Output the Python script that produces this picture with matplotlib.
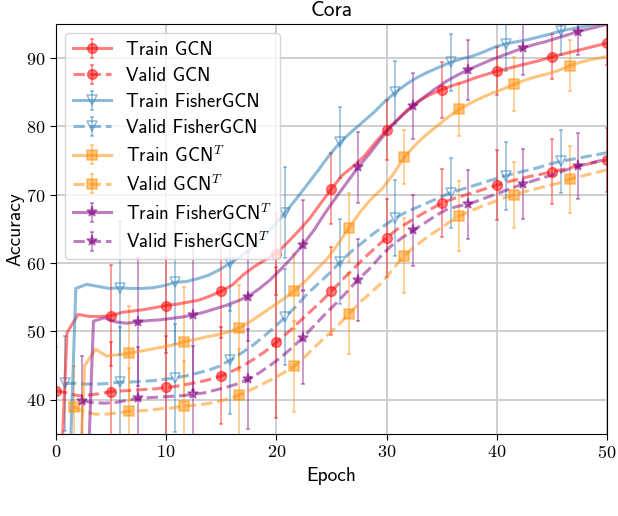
import numpy as np
import matplotlib
matplotlib.use("Agg")
import matplotlib.pyplot as plt
from matplotlib.ticker import FuncFormatter, MultipleLocator

plt.rcParams["font.family"] = ["cmss10", "DejaVu Sans"]
plt.rcParams["mathtext.fontset"] = "cm"
plt.rcParams["axes.unicode_minus"] = False

# ------------------------------------------------------------
# Data (accuracy per epoch, mean over runs; std at every 5th epoch)
# ------------------------------------------------------------
epochs = np.arange(51)

train_gcn = [12, 49.8, 52.5, 52.2, 52.2, 52.3, 52.8, 53.0, 53.2, 53.5, 53.8,
             54.0, 54.3, 54.6, 55.2, 55.9, 56.8, 58.3, 59.5, 60.5, 61.4,
             63.0, 64.7, 66.5, 68.7, 70.9, 72.9, 74.2, 75.7, 77.7, 79.5,
             81.0, 82.6, 83.8, 84.7, 85.4, 86.0, 86.5, 87.1, 87.6, 88.1,
             88.5, 88.9, 89.3, 89.7, 90.2, 90.6, 91.0, 91.4, 91.8, 92.2]
valid_gcn = [41.3, 41.0, 40.6, 40.7, 40.9, 41.2, 41.3, 41.4, 41.5, 41.6, 41.8,
             42.0, 42.3, 42.6, 43.0, 43.5, 44.2, 45.0, 46.0, 47.1, 48.4,
             49.8, 51.3, 52.8, 54.3, 55.9, 57.6, 59.2, 60.8, 62.3, 63.7,
             65.0, 66.0, 67.0, 67.9, 68.8, 69.4, 69.9, 70.4, 70.9, 71.4,
             71.9, 72.3, 72.7, 73.0, 73.4, 73.7, 74.1, 74.4, 74.8, 75.1]
train_fgcn = [8, 56.3, 56.9, 56.6, 56.3, 56.4, 56.3, 56.3, 56.4, 56.7, 57.2,
              57.3, 57.7, 58.2, 59.0, 60.0, 61.0, 62.3, 63.8, 65.5, 67.4,
              69.4, 71.5, 73.6, 75.8, 77.7, 79.2, 80.6, 82.0, 83.6, 85.0,
              86.2, 87.2, 88.0, 88.7, 89.4, 89.9, 90.3, 90.9, 91.6, 92.1,
              92.4, 92.7, 93.1, 93.5, 94.0, 94.3, 94.6, 94.9, 95.2, 95.4]
valid_fgcn = [42.4, 42.4, 42.3, 42.3, 42.4, 42.6, 42.6, 42.7, 42.8, 43.0, 43.2,
              43.5, 43.9, 44.3, 44.9, 45.8, 46.8, 47.9, 49.2, 50.6, 52.1,
              53.7, 55.5, 57.0, 58.5, 60.2, 61.7, 63.0, 64.3, 65.5, 66.6,
              67.5, 68.2, 68.9, 69.6, 70.3, 70.8, 71.3, 71.8, 72.3, 72.8,
              73.2, 73.6, 74.0, 74.5, 74.9, 75.2, 75.5, 75.8, 76.1, 76.4]
train_gcnt = [8, 45.0, 47.4, 46.4, 46.6, 46.8, 47.1, 47.4, 47.7, 48.0, 48.5,
              48.8, 49.2, 49.5, 49.9, 50.5, 51.4, 52.5, 53.6, 54.7, 55.9,
              57.3, 59.0, 60.6, 62.8, 65.2, 67.5, 69.4, 70.9, 73.0, 75.5,
              77.3, 78.8, 80.1, 81.4, 82.5, 83.4, 84.2, 84.9, 85.5, 86.2,
              86.8, 87.3, 87.7, 88.2, 88.9, 89.4, 89.8, 90.1, 90.5, 90.8]
valid_gcnt = [39.0, 38.2, 37.9, 37.9, 38.1, 38.3, 38.4, 38.5, 38.7, 38.8, 39.1,
              39.2, 39.4, 39.7, 40.1, 40.7, 41.4, 42.2, 43.0, 43.9, 44.9,
              46.3, 47.9, 49.4, 50.9, 52.6, 54.3, 55.7, 57.2, 59.2, 61.1,
              62.5, 63.7, 64.8, 65.9, 66.9, 67.6, 68.3, 68.9, 69.5, 70.0,
              70.5, 70.9, 71.3, 71.7, 72.3, 72.7, 73.1, 73.5, 73.9, 74.2]
train_fgcnt = [7, 51.5, 52.0, 51.4, 51.2, 51.4, 51.6, 51.7, 51.9, 52.1, 52.4,
               52.8, 53.3, 53.8, 54.4, 55.1, 56.2, 57.5, 59.1, 60.8, 62.7,
               64.8, 67.3, 69.6, 71.8, 74.0, 75.9, 78.0, 80.0, 81.6, 83.0,
               84.3, 85.5, 86.6, 87.5, 88.3, 89.0, 89.7, 90.3, 90.9, 91.5,
               92.0, 92.4, 92.9, 93.4, 93.9, 94.3, 94.7, 95.1, 95.4, 95.7]
valid_fgcnt = [39.8, 39.6, 39.5, 39.6, 39.9, 40.2, 40.3, 40.4, 40.5, 40.6, 40.8,
               41.0, 41.4, 41.8, 42.3, 43.0, 43.9, 45.0, 46.2, 47.6, 49.1,
               50.8, 52.5, 54.1, 55.8, 57.6, 59.1, 60.9, 62.5, 63.7, 64.8,
               65.8, 66.9, 67.8, 68.3, 68.6, 69.2, 69.8, 70.4, 71.0, 71.6,
               72.1, 72.6, 73.1, 73.7, 74.2, 74.6, 75.0, 75.4, 75.7, 76.0]

# std at epochs 0, 5, ..., 50
std_train_gcn = [5.0, 7.4, 7.0, 6.8, 6.0, 5.2, 4.4, 4.1, 3.5, 3.3, 3.2]
std_valid_gcn = [6.4, 7.2, 7.5, 7.1, 11.0, 6.4, 5.7, 5.0, 5.1, 4.7, 4.7]
std_train_fgcn = [5.0, 9.8, 9.0, 7.0, 6.7, 5.2, 4.6, 4.2, 4.0, 3.5, 3.4]
std_valid_fgcn = [7.0, 8.0, 7.9, 7.9, 7.0, 6.2, 5.5, 5.1, 5.0, 4.6, 4.5]
std_train_gcnt = [5.0, 7.0, 8.0, 6.3, 5.5, 5.0, 3.95, 3.9, 4.0, 3.7, 3.6]
std_valid_gcnt = [6.0, 6.4, 6.6, 6.8, 6.7, 5.9, 5.5, 5.1, 4.8, 4.9, 4.8]
std_train_fgcnt = [5.0, 9.4, 11.0, 6.5, 6.6, 5.2, 4.8, 4.4, 4.0, 3.4, 3.3]
std_valid_fgcnt = [6.6, 7.5, 7.0, 7.3, 6.8, 6.0, 5.2, 5.1, 5.1, 4.8, 4.7]

methods = ["GCN", "FisherGCN", r"GCN$^T$", r"FisherGCN$^T$"]
offsets = [0.0, 0.8, 1.6, 2.4]
colors = ["red", "tab:blue", "darkorange", "purple"]
markers = ["o", "v", "s", "*"]
msizes = [7, 7, 6.5, 8]

train_curves = [train_gcn, train_fgcn, train_gcnt, train_fgcnt]
valid_curves = [valid_gcn, valid_fgcn, valid_gcnt, valid_fgcnt]
train_stds = [std_train_gcn, std_train_fgcn, std_train_gcnt, std_train_fgcnt]
valid_stds = [std_valid_gcn, std_valid_fgcn, std_valid_gcnt, std_valid_fgcnt]


def full_err(std):
    err = np.zeros(len(epochs))
    err[::5] = std
    return err


fig = plt.figure(figsize=(6.18, 5.16), dpi=100)
ax = fig.add_axes([0.0906, 0.159, 0.8916, 0.7945])

for name, off, col, mk, ms, tr, va, s_tr, s_va in zip(
        methods, offsets, colors, markers, msizes,
        train_curves, valid_curves, train_stds, valid_stds):
    for curve, std, ls, lab in [(tr, s_tr, "-", "Train " + name),
                                (va, s_va, "--", "Valid " + name)]:
        mfc = "none" if mk == "v" else col
        ax.errorbar(epochs + off, curve, yerr=full_err(std),
                    errorevery=5, markevery=5, marker=mk, markersize=ms,
                    mfc=mfc, mew=1.1, color=col, ls=ls, lw=2.2, alpha=0.5,
                    elinewidth=1.1, capsize=1.5, capthick=1.0, label=lab)

ax.set_xlim(0, 50)
ax.set_ylim(35, 95)
ax.xaxis.set_major_locator(MultipleLocator(10))
ax.yaxis.set_major_locator(MultipleLocator(10))
ax.xaxis.set_major_formatter(FuncFormatter(lambda v, p: f"${v:.0f}$"))
ax.yaxis.set_major_formatter(FuncFormatter(lambda v, p: f"${v:.0f}$"))
ax.tick_params(labelsize=13, length=4)
ax.grid(True, color="#cccccc", lw=1.3)
ax.set_axisbelow(True)

ax.set_title("Cora", fontsize=15.5)
ax.set_xlabel("Epoch", fontsize=14)
ax.set_ylabel("Accuracy", fontsize=14, labelpad=1.5)
ax.legend(loc="upper left", fontsize=13.6, framealpha=0.8, labelspacing=0.42)

fig.savefig("out.png", dpi=100)
